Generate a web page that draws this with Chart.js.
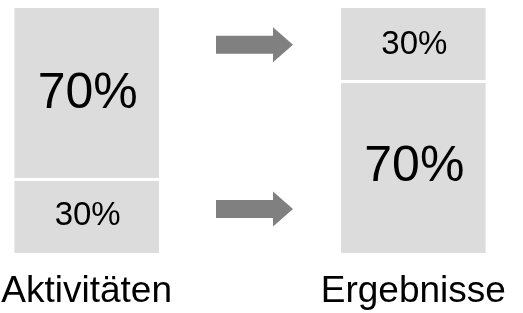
<!DOCTYPE html>
<html>
<head>
<meta charset="utf-8">
<script src="https://cdn.jsdelivr.net/npm/chart.js@4/dist/chart.umd.min.js"></script>
<style>
  html, body { margin: 0; padding: 0; background: #ffffff; }
  #wrap { width: 523px; height: 313px; position: relative; }
</style>
</head>
<body>
<div id="wrap"><canvas id="grafico"></canvas></div>
<script>
// categorias (la del medio queda vacia, ahi van las flechas)
const categorias = ['Aktivitäten', '', 'Ergebnisse'];
const anteilUnten = [30, null, 70];
const anteilOben = [70, null, 30];
// altura de las flechas, en la escala 0..100
const pfeilHoehe = [85, 18];

const grisBarra = '#dcdcdc';
const grisFlecha = '#808080';
const fuente = '"Liberation Sans", Arial, sans-serif';

// etiquetas de porcentaje dentro de cada segmento
const etiquetasPlugin = {
    id: 'etiquetas',
    afterDatasetsDraw(chart) {
        const ctx = chart.ctx;
        ctx.save();
        ctx.fillStyle = '#000000';
        ctx.textAlign = 'center';
        ctx.textBaseline = 'middle';
        chart.data.datasets.forEach((ds, i) => {
            const meta = chart.getDatasetMeta(i);
            meta.data.forEach((bar, j) => {
                const v = ds.data[j];
                if (v == null) return;
                const size = v >= 50 ? 50 : 33;
                ctx.font = size + 'px ' + fuente;
                const y = (bar.y + bar.base) / 2;
                ctx.fillText(v + '%', bar.x + 1, y);
            });
        });
        ctx.restore();
    }
};

// nombres de las categorias debajo de las barras
const categoriasPlugin = {
    id: 'categorias',
    afterDraw(chart) {
        const ctx = chart.ctx;
        const xScale = chart.scales.x;
        ctx.save();
        ctx.fillStyle = '#000000';
        ctx.textAlign = 'center';
        ctx.textBaseline = 'alphabetic';
        ctx.font = '37px ' + fuente;
        chart.data.labels.forEach((lab, i) => {
            if (!lab) return;
            ctx.fillText(lab, xScale.getPixelForValue(i), chart.chartArea.bottom + 49);
        });
        ctx.restore();
    }
};

// flechas entre las dos barras
const flechasPlugin = {
    id: 'flechas',
    afterDatasetsDraw(chart) {
        const ctx = chart.ctx;
        const x = chart.scales.x.getPixelForValue(1);
        const yScale = chart.scales.y;
        ctx.save();
        ctx.fillStyle = grisFlecha;
        pfeilHoehe.forEach(h => {
            const y = yScale.getPixelForValue(h);
            const x0 = x - 34, x1 = x + 23, x2 = x + 43;
            ctx.beginPath();
            ctx.moveTo(x0, y - 9);
            ctx.lineTo(x1, y - 9);
            ctx.lineTo(x1, y - 17.5);
            ctx.lineTo(x2, y);
            ctx.lineTo(x1, y + 17.5);
            ctx.lineTo(x1, y + 9);
            ctx.lineTo(x0, y + 9);
            ctx.closePath();
            ctx.fill();
        });
        ctx.restore();
    }
};

const ctx = document.getElementById('grafico');
new Chart(ctx, {
    type: 'bar',
    data: {
        labels: categorias,
        datasets: [
            {
                label: 'unten',
                data: anteilUnten,
                backgroundColor: grisBarra,
                borderColor: '#ffffff',
                borderWidth: { top: 1.5, bottom: 0, left: 0, right: 0 },
                borderSkipped: false,
            },
            {
                label: 'oben',
                data: anteilOben,
                backgroundColor: grisBarra,
                borderColor: '#ffffff',
                borderWidth: { top: 0, bottom: 1.5, left: 0, right: 0 },
                borderSkipped: false,
            },
        ],
    },
    plugins: [etiquetasPlugin, flechasPlugin, categoriasPlugin],
    options: {
        responsive: true,
        maintainAspectRatio: false,
        animation: false,
        categoryPercentage: 1,
        barPercentage: 0.887,
        layout: {
            padding: { left: 5, right: 28, top: 8, bottom: 60 },
        },
        plugins: {
            legend: { display: false },
            tooltip: { enabled: false },
        },
        scales: {
            x: {
                stacked: true,
                display: false,
            },
            y: {
                stacked: true,
                display: false,
                min: 0,
                max: 100,
            },
        },
    },
});
</script>
</body>
</html>
